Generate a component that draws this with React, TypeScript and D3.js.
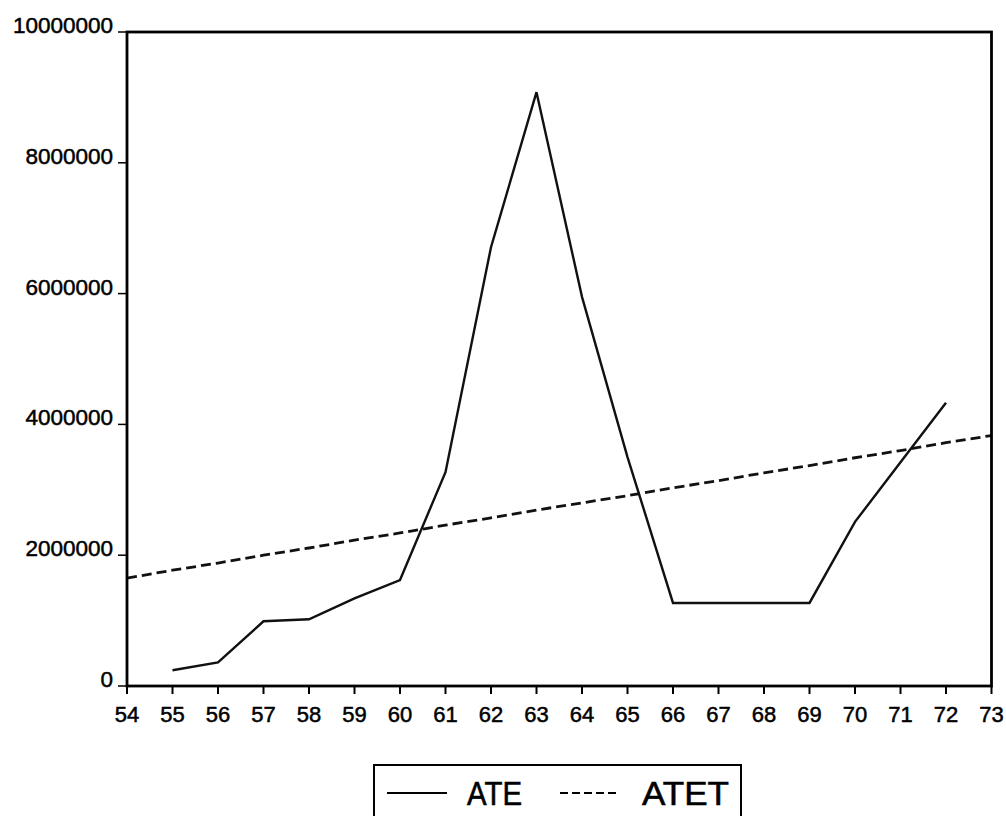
import React from "react";
import * as d3 from "d3";

// Years on the horizontal axis (two-digit)
const years: number[] = [54, 55, 56, 57, 58, 59, 60, 61, 62, 63, 64, 65, 66, 67, 68, 69, 70, 71, 72, 73];

// ATE series (starts in 55, ends in 72)
const ateYears: number[] = [55, 56, 57, 58, 59, 60, 61, 62, 63, 64, 65, 66, 67, 68, 69, 70, 71, 72];
const ateValues: number[] = [
  240000, 360000, 990000, 1020000, 1340000, 1620000, 3270000, 6710000, 9080000,
  5950000, 3500000, 1270000, 1270000, 1270000, 1270000, 2510000, 3420000, 4330000,
];

// ATET trend series (54 to 73)
const atetValues: number[] = [
  1650000, 1770000, 1880000, 2000000, 2110000, 2230000, 2340000, 2460000, 2570000, 2690000,
  2800000, 2910000, 3030000, 3140000, 3260000, 3370000, 3490000, 3600000, 3720000, 3830000,
];

const yTicks: number[] = [0, 2000000, 4000000, 6000000, 8000000, 10000000];

const W = 1006;
const H = 816;
const left = 127;
const right = 991.5;
const top = 32;
const bottom = 686;
const font = "'Liberation Sans', Arial, sans-serif";

export default function App() {
  const x = d3.scaleLinear().domain([54, 73]).range([left, right]);
  const y = d3.scaleLinear().domain([0, 10000000]).range([bottom, top]);

  const ateLine = d3
    .line<number>()
    .x((_, i) => x(ateYears[i]))
    .y((d) => y(d));
  const atetLine = d3
    .line<number>()
    .x((_, i) => x(years[i]))
    .y((d) => y(d));

  return (
    <svg
      width={W}
      height={H}
      style={{ position: "absolute", left: 0, top: 0, background: "#fff" }}
      fontFamily={font}
    >
      <rect x={0} y={0} width={W} height={H} fill="#fff" />

      {/* series */}
      <path d={atetLine(atetValues) || ""} fill="none" stroke="#111" strokeWidth={2.8} strokeDasharray="10,5" />
      <path d={ateLine(ateValues) || ""} fill="none" stroke="#111" strokeWidth={2.4} strokeLinejoin="miter" />

      {/* frame */}
      <rect x={left} y={top} width={right - left} height={bottom - top} fill="none" stroke="#000" strokeWidth={2.8} />

      {/* y axis */}
      {yTicks.map((t) => (
        <g key={t}>
          <line x1={118} x2={left} y1={y(t)} y2={y(t)} stroke="#000" strokeWidth={1.5} />
          <text
            x={113}
            y={y(t) + 1}
            textAnchor="end"
            fontSize={22.5}
            fill="#000"
            stroke="#000"
            strokeWidth={0.5}
          >
            {d3.format("d")(t)}
          </text>
        </g>
      ))}

      {/* x axis */}
      {years.map((yr) => (
        <g key={yr}>
          <line x1={x(yr)} x2={x(yr)} y1={bottom} y2={bottom + 8} stroke="#000" strokeWidth={2} />
          <text
            x={x(yr)}
            y={722}
            textAnchor="middle"
            fontSize={22}
            fill="#000"
            stroke="#000"
            strokeWidth={0.5}
          >
            {yr}
          </text>
        </g>
      ))}

      {/* legend */}
      <rect x={374} y={765} width={367} height={80} fill="none" stroke="#000" strokeWidth={2} />
      <line x1={387} x2={447} y1={793} y2={793} stroke="#000" strokeWidth={2} />
      <text
        x={467}
        y={805}
        fontSize={34}
        textLength={55}
        lengthAdjust="spacingAndGlyphs"
        fill="#000"
        stroke="#000"
        strokeWidth={0.6}
      >
        ATE
      </text>
      <line x1={560} x2={620} y1={793} y2={793} stroke="#000" strokeWidth={2} strokeDasharray="8,4" />
      <text
        x={642}
        y={805}
        fontSize={34}
        textLength={87}
        lengthAdjust="spacingAndGlyphs"
        fill="#000"
        stroke="#000"
        strokeWidth={0.6}
      >
        ATET
      </text>
    </svg>
  );
}
